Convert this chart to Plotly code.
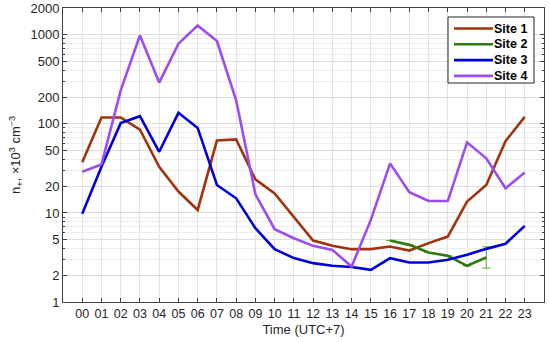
import plotly.graph_objects as go

hours = [f"{h:02d}" for h in range(24)]
hour_idx = list(range(24))

site1 = [37, 118, 118, 86, 33, 17.4, 10.8, 65, 67, 23.8, 16.6, 8.9, 4.9, 4.27, 3.92, 3.92,
         4.2, 3.78, 4.58, 5.43, 13.4, 20.6, 64, 120]
site2_hours = [16, 17, 18, 19, 20, 21]
site2 = [4.9, 4.38, 3.59, 3.3, 2.55, 3.16]
site2_err_plus = [0, 0, 0, 0, 0, 1.0]
site2_err_minus = [0, 0, 0, 0, 0, 0.76]
site3 = [9.8, 33, 102, 122, 48.6, 133, 90, 20.6, 14.6, 6.74, 3.92, 3.11, 2.73, 2.55, 2.47, 2.3,
         3.11, 2.78, 2.78, 2.98, 3.39, 3.95, 4.5, 7.15]
site4 = [29, 35, 238, 985, 291, 795, 1274, 850, 184, 16.2, 6.57, 5.2, 4.27, 3.85, 2.5, 8.35,
         36, 17.1, 13.6, 13.6, 62, 41, 18.9, 28.5]

y_ticks = [1, 2, 5, 10, 20, 50, 100, 200, 500, 1000, 2000]
y_minor = [m * 10 ** e for e in range(0, 4) for m in range(1, 10) if m * 10 ** e <= 2000]

names = ["Site 1", "Site 2", "Site 3", "Site 4"]
colors = ["#A3320E", "#2E7A10", "#0000DC", "#9B4CF2"]

fig = go.Figure()
fig.add_trace(go.Scatter(x=hour_idx, y=site1, name=names[0], mode="lines",
                         line=dict(color=colors[0], width=2.6)))
fig.add_trace(go.Scatter(x=site2_hours, y=site2, name=names[1], mode="lines",
                         line=dict(color=colors[1], width=2.6),
                         error_y=dict(type="data", array=site2_err_plus, arrayminus=site2_err_minus,
                                      symmetric=False, color="#5BAA20", thickness=1, width=4)))
fig.add_trace(go.Scatter(x=hour_idx, y=site3, name=names[2], mode="lines",
                         line=dict(color=colors[2], width=2.6)))
fig.add_trace(go.Scatter(x=hour_idx, y=site4, name=names[3], mode="lines",
                         line=dict(color=colors[3], width=2.6)))

axis_font = dict(family="Liberation Sans, Arial, sans-serif", size=13, color="#262626")

# compact legend box drawn in paper coordinates (plot area: 481 x 294 px)
W, H = 481.0, 294.0
def px(xp):
    return (xp - 63) / W
def py(yp):
    return (302 - yp) / H

shapes = [dict(type="rect", xref="paper", yref="paper", x0=px(448), x1=px(534), y0=py(83), y1=py(17),
               line=dict(color="#262626", width=1), fillcolor="white", layer="above")]
annotations = []
row_y = [28.5, 44.3, 60.1, 75.9]
for nm, col, ry in zip(names, colors, row_y):
    shapes.append(dict(type="line", xref="paper", yref="paper", x0=px(454), x1=px(493),
                       y0=py(ry), y1=py(ry), line=dict(color=col, width=2.6), layer="above"))
    annotations.append(dict(xref="paper", yref="paper", x=px(493), y=py(ry), xanchor="left",
                            yanchor="middle", text=f"<b>{nm}</b>", showarrow=False, borderpad=0,
                            font=dict(family="Liberation Sans, Arial, sans-serif", size=12.5, color="black")))

fig.update_layout(
    width=550, height=342,
    margin=dict(l=63, r=6, t=8, b=40, autoexpand=False),
    paper_bgcolor="white", plot_bgcolor="white",
    font=axis_font,
    showlegend=False,
    shapes=shapes,
    annotations=annotations,
    xaxis=dict(
        range=[-1, 24], tickmode="array", tickvals=hour_idx, ticktext=hours,
        showgrid=True, gridcolor="#E3E3E3", gridwidth=1,
        ticks="inside", ticklen=4, tickcolor="#404040",
        showline=True, linecolor="#404040", linewidth=1, mirror="ticks",
        zeroline=False, tickfont=dict(size=12.5),
        title=dict(text="Time (UTC+7)", standoff=4, font=axis_font),
    ),
    yaxis=dict(
        type="log", range=[0, 3.30103],
        tickmode="array", tickvals=y_ticks, ticktext=[str(v) for v in y_ticks],
        showgrid=True, gridcolor="#DCDCDC", gridwidth=1,
        ticks="inside", ticklen=4, tickcolor="#404040",
        showline=True, linecolor="#404040", linewidth=1, mirror="ticks",
        minor=dict(tickmode="array", tickvals=y_minor, showgrid=True, gridcolor="#EDEDED",
                   ticks="inside", ticklen=2, tickcolor="#404040"),
        zeroline=False, tickfont=dict(size=13),
        title=dict(text="n<sub>+</sub>, ×10<sup>3</sup> cm<sup>−3</sup>", standoff=6, font=axis_font),
    ),
)

fig.write_html("out.html", config={"displayModeBar": False},
               post_script="document.body.style.margin='0';")
